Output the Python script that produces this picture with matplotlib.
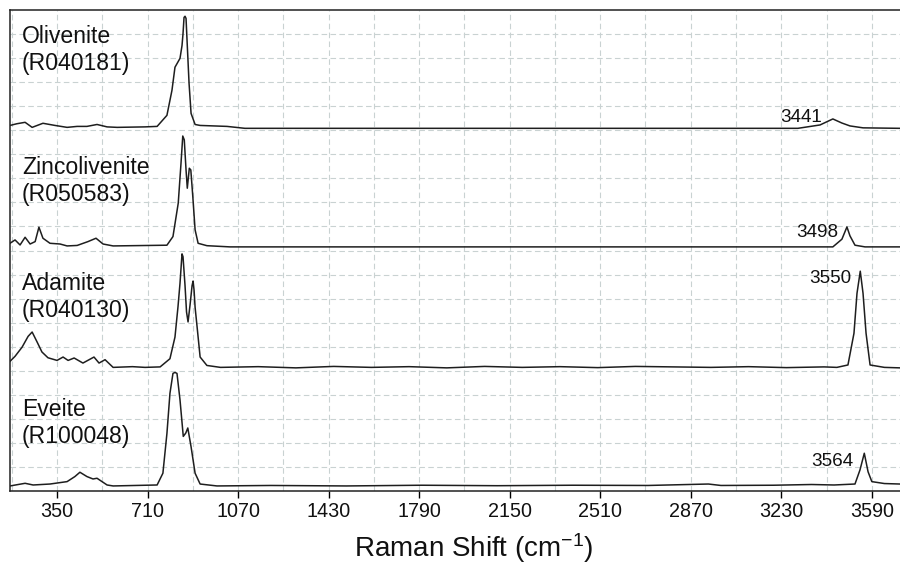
import numpy as np
import matplotlib
matplotlib.use('Agg')
import matplotlib.pyplot as plt
from matplotlib.ticker import FixedLocator

plt.rcParams['font.family'] = ['Liberation Sans', 'DejaVu Sans']
plt.rcParams['mathtext.default'] = 'regular'

# spectra: shift (cm-1) and height above each baseline
oli_x = [163, 190, 223, 251, 294, 342, 390, 430, 469, 509, 549, 589, 700, 748, 787, 807, 819, 839, 847,
         851, 855, 859, 863, 867, 875, 883, 899, 919, 1026, 1097, 3296, 3384, 3435, 3471, 3503, 3555, 3702]
oli_y = [0.08, 0.15, 0.21, 0.0, 0.17, 0.08, 0.0, 0.04, 0.04, 0.12, 0.02, 0.0, 0.02, 0.04, 0.5, 1.54, 2.5, 2.87, 3.4,
         3.9, 4.57, 4.62, 4.53, 3.62, 1.83, 0.58, 0.12, 0.08, 0.04, -0.04, -0.04, 0.1, 0.35, 0.18, 0.06, -0.02, -0.04]

zin_x = [163, 183, 203, 223, 243, 263, 278, 294, 322, 362, 390, 430, 473, 505, 533, 573, 787, 811, 832, 843,
         850, 856, 863, 868, 876, 882, 890, 899, 911, 946, 1038, 3435, 3471, 3491, 3503, 3523, 3563, 3702]
zin_y = [0.15, 0.29, 0.08, 0.40, 0.12, 0.22, 0.82, 0.36, 0.15, 0.12, 0.04, 0.06, 0.22, 0.36, 0.12, 0.04, 0.07, 0.43,
         1.82, 3.48, 4.61, 4.45, 3.20, 2.44, 3.27, 3.20, 2.08, 0.71, 0.15, 0.05, 0.0, 0.0, 0.32, 0.83, 0.46, 0.07,
         0.0, 0.0]

ada_x = [163, 183, 211, 235, 251, 271, 290, 314, 350, 374, 394, 418, 453, 497, 517, 541, 573, 650, 700, 760,
         799, 819, 831, 839, 847, 851, 859, 865, 871, 879, 887, 891, 895, 899, 907, 919, 946, 1000,
         1150, 1300, 1450, 1600, 1750, 1900, 2050, 2200, 2350, 2500, 2650, 2800, 2950, 3100, 3250, 3400,
         3451, 3495, 3519, 3531, 3544, 3555, 3567, 3583, 3640, 3702]
ada_y = [0.25, 0.46, 0.84, 1.29, 1.47, 1.05, 0.64, 0.40, 0.29, 0.43, 0.29, 0.39, 0.18, 0.43, 0.18, 0.32, 0.0, 0.03,
         0.0, 0.02, 0.36, 1.26, 2.52, 3.5, 4.72, 4.6, 3.4, 2.3, 1.89, 2.6, 3.4, 3.59, 3.2, 2.5, 1.68, 0.43, 0.08,
         0.0, 0.03, -0.02, 0.04, 0.0, 0.03, -0.02, 0.04, 0.0, 0.03, -0.01, 0.04, 0.02, 0.0, 0.03, -0.01, 0.02,
         0.0, 0.1, 1.42, 3.08, 4.0, 3.08, 1.42, 0.1, 0.0, -0.02]

eve_x = [163, 223, 255, 322, 390, 421, 441, 469, 493, 509, 549, 573, 748, 771, 787, 799, 811, 819, 827, 839,
         852, 862, 870, 883, 899, 919, 986, 1200, 1500, 1800, 2100, 2400, 2700, 2940, 2990, 3200, 3350, 3440,
         3523, 3543, 3560, 3575, 3590, 3640, 3702]
eve_y = [0.0, 0.11, 0.04, 0.08, 0.18, 0.39, 0.57, 0.39, 0.29, 0.32, 0.04, 0.0, 0.04, 0.53, 2.18, 3.85, 4.68, 4.72,
         4.68, 3.58, 2.06, 2.2, 2.41, 1.63, 0.53, 0.08, 0.0, 0.02, 0.0, 0.03, 0.01, 0.03, 0.02, 0.08, 0.02, 0.03,
         0.06, 0.04, 0.08, 0.67, 1.36, 0.59, 0.18, 0.1, 0.08]

names = ['Olivenite\n(R040181)', 'Zincolivenite\n(R050583)', 'Adamite\n(R040130)', 'Eveite\n(R100048)']
offsets = [15.12, 10.15, 5.14, 0.21]
name_tops = [19.38, 13.93, 9.1, 3.87]
peak_labels = ['3441', '3498', '3550', '3564']
peak_lab_x = [3392, 3455, 3507, 3515]
peak_lab_y = [15.36, 10.57, 8.66, 1.04]

spectra = [(oli_x, oli_y), (zin_x, zin_y), (ada_x, ada_y), (eve_x, eve_y)]

fig = plt.figure(figsize=(9, 5.67), dpi=100)
ax = fig.add_axes([10 / 900, 1 - 491 / 567, 890 / 900, 481 / 567])

for (xs, ys), off in zip(spectra, offsets):
    ax.plot(xs, np.array(ys) + off, color='#1e1e1e', lw=1.1)

for name, top in zip(names, name_tops):
    ax.text(211, top, name, fontsize=16.6, ha='left', va='top', color='#111111')

for lab, lx, ly in zip(peak_labels, peak_lab_x, peak_lab_y):
    ax.text(lx, ly, lab, fontsize=13.6, ha='right', va='baseline', color='#111111')

ax.set_xlim(163, 3702)
ax.set_ylim(0, 20)
ax.xaxis.set_major_locator(FixedLocator(np.arange(350, 3600, 360)))
ax.xaxis.set_minor_locator(FixedLocator(np.arange(170, 3700, 180)))
ax.yaxis.set_major_locator(FixedLocator(np.arange(1, 20, 1)))
ax.tick_params(axis='x', which='major', direction='out', length=5, width=1, labelsize=14.2, pad=3,
               labelcolor='#111111')
ax.tick_params(axis='x', which='minor', length=0)
ax.tick_params(axis='y', length=0, labelleft=False)
ax.grid(True, which='both', axis='x', color='#c9d2d2', ls=(0, (5, 3)), lw=0.8)
ax.grid(True, which='major', axis='y', color='#c9d2d2', ls=(0, (5, 3)), lw=0.8)
ax.set_axisbelow(True)

for s in ['left', 'top', 'bottom']:
    ax.spines[s].set_color('#222222')
    ax.spines[s].set_linewidth(1.1)
ax.spines['right'].set_visible(False)

ax.set_xlabel('Raman Shift (cm$^{-1}$)', fontsize=20, color='#111111')
ax.xaxis.set_label_coords(0.521, -0.083)

fig.savefig('out.png', dpi=100)
